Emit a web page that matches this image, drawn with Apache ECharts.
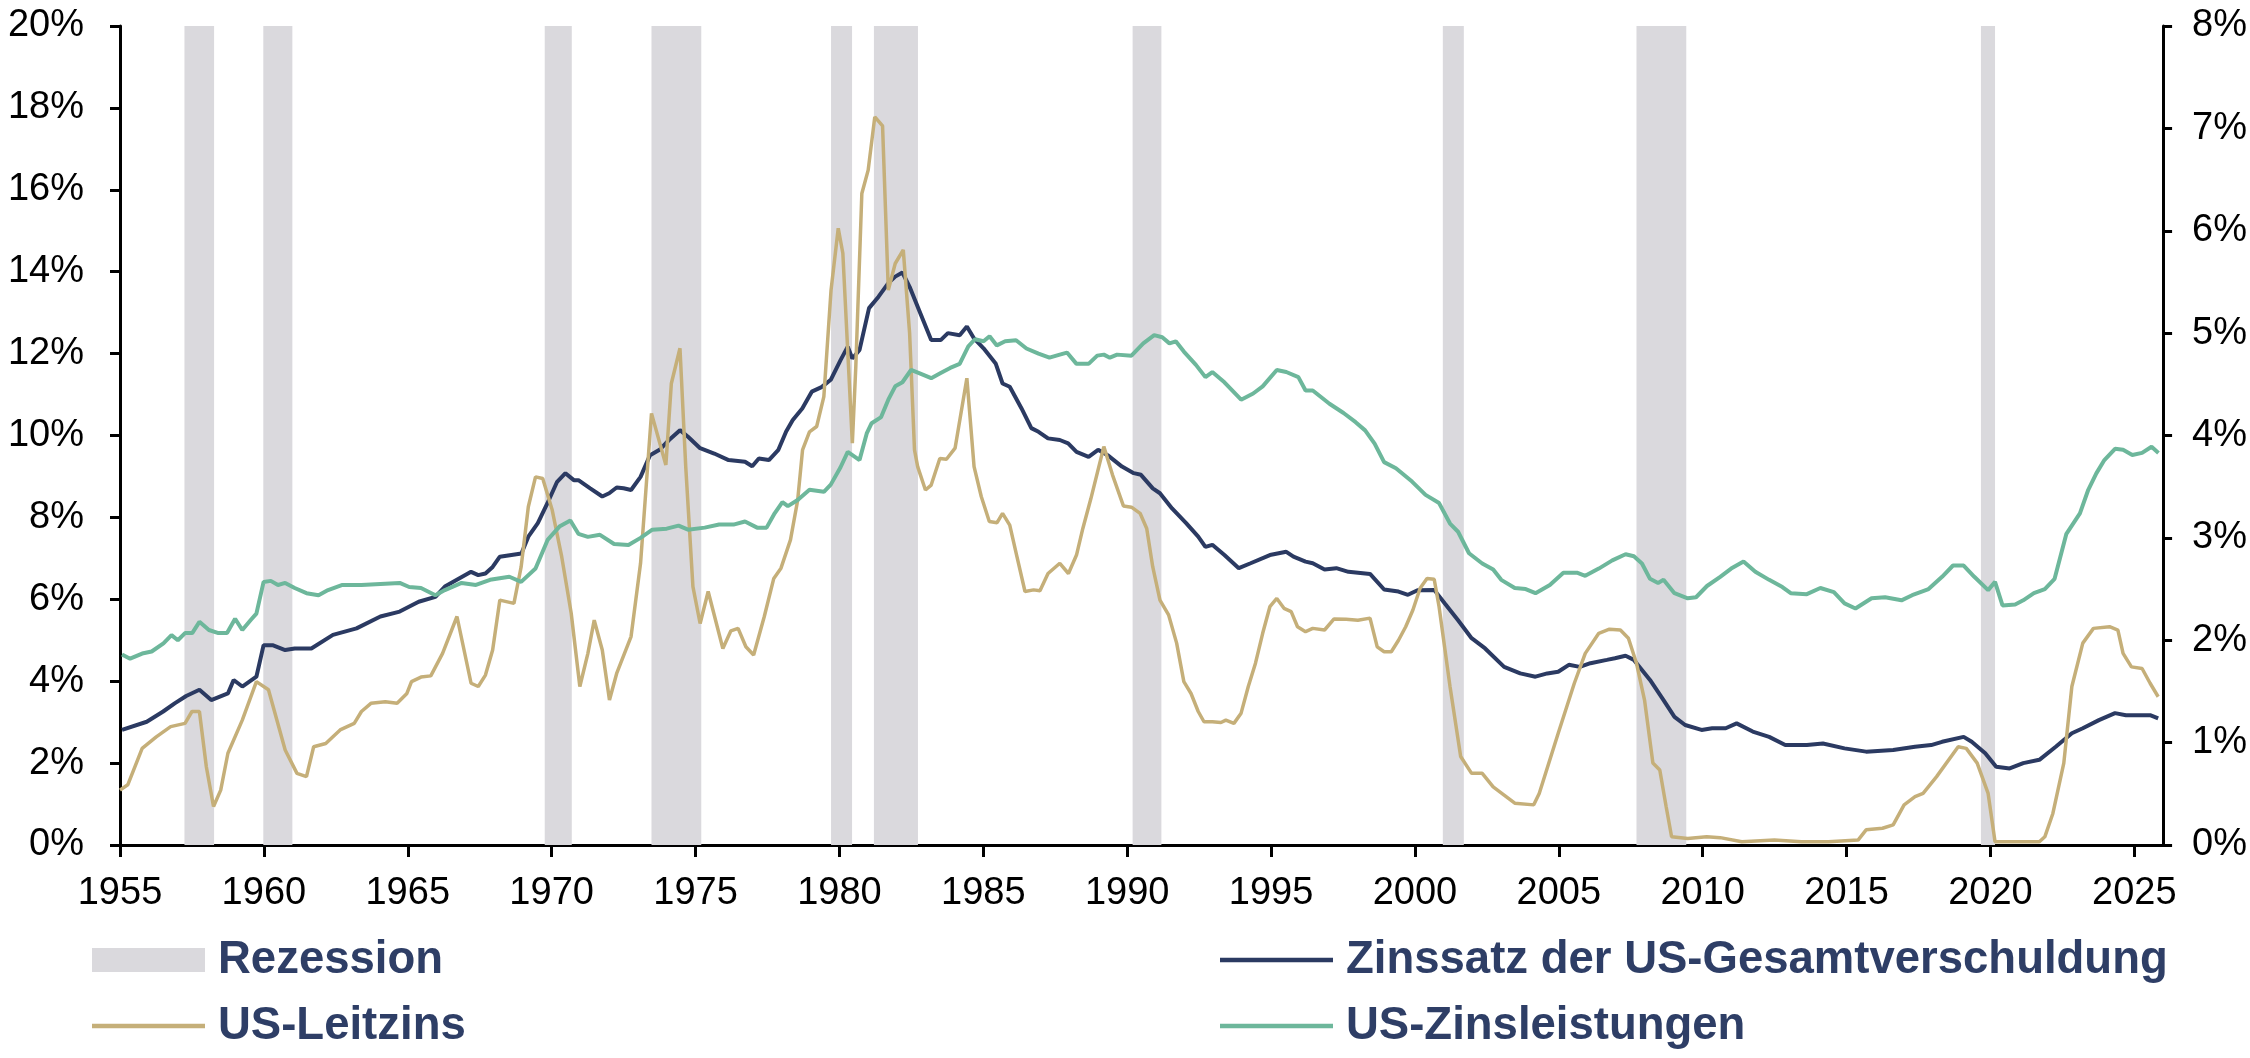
<!DOCTYPE html>
<html>
<head>
<meta charset="utf-8">
<script src="https://cdn.jsdelivr.net/npm/echarts@6/dist/echarts.min.js"></script>
<style>
html,body{margin:0;padding:0;background:#ffffff;}
#chart{width:2250px;height:1058px;}
</style>
</head>
<body>
<div id="chart"></div>
<script>
// ---------- DATA ----------
const xTickLabels = [1955,1960,1965,1970,1975,1980,1985,1990,1995,2000,2005,2010,2015,2020,2025];
const leftTicks = [0,2,4,6,8,10,12,14,16,18,20];
const rightTicks = [0,1,2,3,4,5,6,7,8];

const seriesNames = ['Rezession','Zinssatz der US-Gesamtverschuldung','US-Leitzins','US-Zinsleistungen'];

// Recession periods [start, end] in decimal years
const recessions = [
  [1957.24,1958.27],[1959.98,1960.99],[1969.76,1970.70],[1973.47,1975.20],
  [1979.71,1980.44],[1981.20,1982.73],[1990.19,1991.19],[2000.97,2001.70],
  [2007.70,2009.43],[2019.67,2020.16]
];

// Zinssatz der US-Gesamtverschuldung (left axis, %)
const debtRate = [
  [1955.07,2.81],[1955.93,3.01],[1956.5,3.26],[1956.9,3.46],[1957.3,3.64],[1957.76,3.79],
  [1958.17,3.54],[1958.75,3.70],[1958.95,4.03],[1959.25,3.87],[1959.74,4.11],[1959.99,4.88],
  [1960.3,4.88],[1960.74,4.76],[1961.07,4.80],[1961.65,4.80],[1962.4,5.13],[1963.22,5.29],
  [1964.05,5.58],[1964.72,5.70],[1965.38,5.94],[1965.96,6.06],[1966.29,6.31],[1967.2,6.67],
  [1967.45,6.59],[1967.7,6.63],[1967.95,6.79],[1968.2,7.04],[1968.95,7.12],[1969.19,7.53],
  [1969.52,7.86],[1969.85,8.34],[1970.19,8.87],[1970.48,9.08],[1970.77,8.91],[1970.93,8.91],
  [1971.34,8.71],[1971.76,8.51],[1972.0,8.59],[1972.26,8.73],[1972.5,8.71],[1972.76,8.67],
  [1973.09,8.99],[1973.42,9.52],[1973.75,9.65],[1974.08,9.89],[1974.46,10.13],[1974.74,9.97],
  [1975.16,9.69],[1975.65,9.56],[1976.15,9.40],[1976.72,9.36],[1976.97,9.25],[1977.2,9.44],
  [1977.55,9.40],[1977.88,9.65],[1978.15,10.1],[1978.38,10.38],[1978.71,10.66],[1979.04,11.07],
  [1979.38,11.18],[1979.7,11.36],[1980.04,11.84],[1980.29,12.17],[1980.45,11.88],[1980.7,12.09],
  [1981.03,13.11],[1981.36,13.39],[1981.7,13.72],[1981.94,13.88],[1982.19,13.98],[1982.44,13.63],
  [1982.77,13.06],[1983.19,12.33],[1983.52,12.33],[1983.77,12.50],[1984.18,12.45],[1984.43,12.66],
  [1984.68,12.37],[1985.01,12.13],[1985.43,11.76],[1985.67,11.27],[1985.92,11.19],[1986.33,10.66],
  [1986.67,10.18],[1986.92,10.09],[1987.25,9.93],[1987.66,9.89],[1987.95,9.81],[1988.24,9.60],
  [1988.66,9.48],[1988.99,9.65],[1989.32,9.52],[1989.82,9.24],[1990.23,9.08],[1990.48,9.04],
  [1990.89,8.71],[1991.14,8.59],[1991.56,8.22],[1992.05,7.86],[1992.47,7.53],[1992.72,7.28],
  [1992.96,7.33],[1993.38,7.08],[1993.88,6.76],[1994.29,6.88],[1994.96,7.08],[1995.53,7.16],
  [1995.78,7.04],[1996.2,6.92],[1996.45,6.88],[1996.86,6.73],[1997.27,6.76],[1997.69,6.67],
  [1998.44,6.62],[1998.93,6.24],[1999.43,6.19],[1999.76,6.11],[2000.09,6.22],[2000.67,6.23],
  [2001.04,5.90],[2001.5,5.49],[2001.97,5.05],[2002.44,4.80],[2003.1,4.35],[2003.66,4.19],
  [2004.19,4.11],[2004.6,4.19],[2004.98,4.23],[2005.35,4.40],[2005.73,4.35],[2006.1,4.44],
  [2006.67,4.52],[2006.95,4.56],[2007.32,4.62],[2007.61,4.52],[2008.17,4.03],[2008.64,3.54],
  [2009.02,3.13],[2009.39,2.93],[2009.96,2.81],[2010.33,2.85],[2010.8,2.85],[2011.18,2.97],
  [2011.74,2.77],[2012.31,2.64],[2012.87,2.44],[2013.62,2.44],[2014.18,2.48],[2014.93,2.36],
  [2015.68,2.28],[2016.62,2.32],[2017.38,2.40],[2017.94,2.44],[2018.32,2.52],[2019.07,2.64],
  [2019.35,2.52],[2019.82,2.24],[2020.2,1.91],[2020.67,1.87],[2021.14,2.0],[2021.7,2.08],
  [2022.27,2.40],[2022.83,2.73],[2023.21,2.85],[2023.77,3.05],[2024.33,3.22],[2024.71,3.17],
  [2025.08,3.17],[2025.55,3.17],[2025.83,3.09]
];

// US-Leitzins (left axis, %)
const policyRate = [
  [1955.0,1.34],[1955.27,1.47],[1955.77,2.36],[1956.26,2.64],[1956.76,2.89],[1957.26,2.97],
  [1957.5,3.26],[1957.76,3.26],[1958.0,1.91],[1958.25,0.94],[1958.5,1.34],[1958.75,2.24],
  [1959.25,3.05],[1959.74,3.99],[1960.16,3.79],[1960.74,2.32],[1961.15,1.75],[1961.48,1.67],
  [1961.73,2.40],[1962.15,2.48],[1962.65,2.81],[1963.14,2.97],[1963.39,3.26],[1963.72,3.46],
  [1964.22,3.50],[1964.63,3.46],[1964.97,3.70],[1965.13,3.99],[1965.46,4.10],[1965.8,4.13],
  [1966.21,4.68],[1966.71,5.58],[1967.2,3.95],[1967.45,3.87],[1967.7,4.15],[1967.95,4.76],
  [1968.2,5.98],[1968.69,5.90],[1968.94,6.79],[1969.19,8.26],[1969.44,8.99],[1969.69,8.95],
  [1970.02,8.18],[1970.35,7.04],[1970.68,5.66],[1970.98,3.87],[1971.26,4.68],[1971.48,5.49],
  [1971.76,4.76],[1972.01,3.54],[1972.26,4.19],[1972.76,5.09],[1973.09,6.88],[1973.47,10.54],
  [1973.97,9.28],[1974.16,11.27],[1974.46,12.13],[1974.66,9.24],[1974.91,6.31],[1975.16,5.41],
  [1975.44,6.19],[1975.95,4.80],[1976.23,5.23],[1976.48,5.29],[1976.75,4.84],[1977.02,4.64],
  [1977.39,5.58],[1977.72,6.51],[1977.97,6.76],[1978.3,7.45],[1978.55,8.42],[1978.72,9.65],
  [1978.96,10.09],[1979.21,10.22],[1979.46,10.95],[1979.71,13.55],[1979.96,15.06],[1980.12,14.45],
  [1980.45,9.81],[1980.57,11.68],[1980.78,15.91],[1981.0,16.48],[1981.23,17.78],[1981.5,17.56],
  [1981.7,13.55],[1981.94,14.20],[1982.22,14.53],[1982.44,12.50],[1982.61,9.65],[1982.72,9.24],
  [1982.99,8.67],[1983.19,8.79],[1983.49,9.44],[1983.72,9.42],[1984.02,9.69],[1984.43,11.40],
  [1984.68,9.24],[1984.93,8.51],[1985.21,7.90],[1985.48,7.87],[1985.67,8.10],[1985.92,7.81],
  [1986.17,7.04],[1986.45,6.19],[1986.75,6.23],[1986.97,6.21],[1987.25,6.63],[1987.66,6.88],
  [1987.96,6.63],[1988.24,7.08],[1988.46,7.73],[1988.74,8.46],[1989.19,9.73],[1989.49,9.04],
  [1989.87,8.28],[1990.15,8.25],[1990.45,8.10],[1990.68,7.73],[1990.89,6.79],[1991.14,5.98],
  [1991.44,5.62],[1991.72,4.93],[1991.97,3.99],[1992.22,3.70],[1992.47,3.26],[1992.67,3.01],
  [1992.96,3.01],[1993.26,2.99],[1993.43,3.05],[1993.71,2.97],[1993.96,3.22],[1994.21,3.87],
  [1994.46,4.44],[1994.71,5.17],[1994.96,5.82],[1995.2,6.02],[1995.45,5.78],[1995.7,5.70],
  [1995.92,5.33],[1996.2,5.21],[1996.45,5.29],[1996.86,5.25],[1997.19,5.52],[1997.61,5.51],
  [1998.02,5.49],[1998.44,5.54],[1998.69,4.84],[1998.93,4.72],[1999.18,4.72],[1999.43,5.00],
  [1999.68,5.33],[1999.93,5.74],[2000.18,6.27],[2000.42,6.51],[2000.67,6.49],[2000.84,5.82],
  [2001.22,3.87],[2001.59,2.16],[2001.97,1.75],[2002.34,1.75],[2002.72,1.42],[2003.1,1.22],
  [2003.47,1.02],[2004.13,0.98],[2004.32,1.26],[2004.98,2.73],[2005.54,3.95],[2005.92,4.68],
  [2006.39,5.17],[2006.76,5.27],[2007.14,5.25],[2007.42,5.05],[2007.7,4.44],[2007.98,3.54],
  [2008.27,2.0],[2008.51,1.83],[2008.73,0.94],[2008.92,0.20],[2009.48,0.16],[2010.14,0.20],
  [2010.61,0.18],[2011.36,0.08],[2012.49,0.12],[2013.43,0.08],[2014.37,0.08],[2015.4,0.12],
  [2015.68,0.37],[2016.25,0.41],[2016.62,0.49],[2017.0,0.98],[2017.38,1.18],[2017.66,1.26],
  [2018.13,1.67],[2018.88,2.40],[2019.16,2.36],[2019.54,2.0],[2019.92,1.26],[2020.16,0.08],
  [2021.7,0.08],[2021.89,0.20],[2022.17,0.77],[2022.55,2.0],[2022.83,3.87],[2023.21,4.93],
  [2023.58,5.29],[2024.14,5.33],[2024.43,5.25],[2024.61,4.68],[2024.9,4.35],[2025.27,4.31],
  [2025.55,3.95],[2025.83,3.62]
];

// US-Zinsleistungen (right axis, %)
const interestPayments = [
  [1955.07,1.86],[1955.35,1.82],[1955.77,1.87],[1956.1,1.89],[1956.51,1.97],[1956.79,2.05],
  [1957.01,2.0],[1957.26,2.07],[1957.51,2.07],[1957.76,2.18],[1958.09,2.10],[1958.42,2.07],
  [1958.72,2.07],[1959.0,2.21],[1959.25,2.10],[1959.55,2.20],[1959.74,2.26],[1959.99,2.57],
  [1960.24,2.58],[1960.49,2.54],[1960.74,2.56],[1961.07,2.51],[1961.48,2.46],[1961.9,2.44],
  [1962.23,2.49],[1962.73,2.54],[1963.39,2.54],[1964.05,2.55],[1964.72,2.56],[1965.05,2.52],
  [1965.46,2.51],[1965.96,2.44],[1966.29,2.49],[1966.87,2.56],[1967.37,2.54],[1967.86,2.59],
  [1968.53,2.62],[1968.94,2.57],[1969.44,2.70],[1969.86,2.98],[1970.27,3.11],[1970.65,3.17],
  [1970.93,3.04],[1971.26,3.01],[1971.68,3.03],[1972.17,2.94],[1972.67,2.93],[1973.09,3.0],
  [1973.5,3.08],[1974.0,3.09],[1974.41,3.12],[1974.74,3.08],[1975.32,3.10],[1975.82,3.13],
  [1976.32,3.13],[1976.72,3.16],[1977.14,3.10],[1977.47,3.10],[1977.75,3.24],[1978.02,3.35],
  [1978.21,3.31],[1978.55,3.37],[1978.96,3.47],[1979.46,3.45],[1979.7,3.52],[1980.04,3.69],
  [1980.29,3.84],[1980.7,3.76],[1980.95,4.02],[1981.12,4.12],[1981.45,4.18],[1981.7,4.35],
  [1981.94,4.48],[1982.19,4.52],[1982.49,4.64],[1982.77,4.61],[1983.19,4.56],[1983.52,4.61],
  [1983.85,4.66],[1984.18,4.70],[1984.48,4.87],[1984.71,4.94],[1985.01,4.92],[1985.22,4.97],
  [1985.47,4.88],[1985.76,4.92],[1986.14,4.93],[1986.5,4.85],[1986.92,4.80],[1987.3,4.76],
  [1987.66,4.79],[1987.91,4.81],[1988.24,4.70],[1988.66,4.70],[1988.96,4.78],[1989.19,4.79],
  [1989.4,4.76],[1989.65,4.79],[1990.15,4.78],[1990.56,4.90],[1990.94,4.98],[1991.22,4.96],
  [1991.47,4.90],[1991.69,4.92],[1991.97,4.82],[1992.39,4.69],[1992.72,4.57],[1992.96,4.62],
  [1993.38,4.52],[1993.96,4.35],[1994.38,4.41],[1994.71,4.48],[1995.2,4.64],[1995.53,4.62],
  [1995.95,4.57],[1996.2,4.44],[1996.45,4.44],[1997.03,4.31],[1997.52,4.22],[1997.94,4.13],
  [1998.27,4.05],[1998.6,3.92],[1998.93,3.74],[1999.34,3.68],[1999.9,3.55],[2000.37,3.42],
  [2000.84,3.34],[2001.22,3.14],[2001.5,3.06],[2001.88,2.85],[2002.34,2.75],[2002.72,2.69],
  [2003.0,2.59],[2003.47,2.51],[2003.85,2.50],[2004.19,2.46],[2004.69,2.54],[2005.16,2.66],
  [2005.63,2.66],[2005.92,2.63],[2006.39,2.70],[2006.86,2.78],[2007.32,2.84],[2007.61,2.82],
  [2007.89,2.75],[2008.17,2.60],[2008.45,2.56],[2008.64,2.59],[2009.02,2.46],[2009.48,2.41],
  [2009.77,2.42],[2010.15,2.53],[2010.61,2.62],[2010.99,2.70],[2011.42,2.77],[2011.83,2.67],
  [2012.31,2.59],[2012.77,2.52],[2013.06,2.46],[2013.62,2.45],[2014.09,2.51],[2014.56,2.47],
  [2014.93,2.36],[2015.31,2.31],[2015.87,2.41],[2016.34,2.42],[2016.91,2.39],[2017.28,2.44],
  [2017.85,2.50],[2018.32,2.62],[2018.7,2.73],[2019.07,2.73],[2019.44,2.62],[2019.92,2.49],
  [2020.16,2.57],[2020.42,2.34],[2020.86,2.35],[2021.14,2.39],[2021.51,2.46],[2021.89,2.50],
  [2022.23,2.60],[2022.64,3.04],[2023.11,3.24],[2023.4,3.47],[2023.68,3.63],[2023.96,3.76],
  [2024.33,3.87],[2024.61,3.86],[2024.93,3.81],[2025.27,3.83],[2025.6,3.89],[2025.84,3.83]
];

// ---------- STYLE ----------
const FONT = "'Liberation Sans', Arial, Helvetica, sans-serif";
const C_BAND = '#DAD9DD';
const C_NAVY = '#2B3A62';
const C_GOLD = '#C5AF79';
const C_GREEN = '#6DB79B';
const C_LEGEND = '#2E3E66';
const lineIcon = 'path://M0,0h113v4.5h-113z';

const chart = echarts.init(document.getElementById('chart'), null, {renderer: 'canvas'});

const axisLineStyle = {show: true, lineStyle: {color: '#000', width: 3}};
const legendText = {fontFamily: FONT, fontWeight: 'bold', fontSize: 45.5, color: C_LEGEND, lineHeight: 45, padding: [0, 0, 0, 8]};

const option = {
  animation: false,
  backgroundColor: '#ffffff',
  grid: {left: 120, right: 83, top: 26, bottom: 213, containLabel: false},
  legend: [
    {
      left: 92, top: 937, orient: 'vertical', padding: 0, itemGap: 20,
      itemWidth: 113, itemHeight: 24, selectedMode: false,
      textStyle: legendText,
      data: [
        {name: seriesNames[0], icon: 'rect'},
        {name: seriesNames[2], icon: lineIcon}
      ]
    },
    {
      left: 1220, top: 937, orient: 'vertical', padding: 0, itemGap: 20,
      itemWidth: 113, itemHeight: 24, selectedMode: false,
      textStyle: legendText,
      data: [
        {name: seriesNames[1], icon: lineIcon},
        {name: seriesNames[3], icon: lineIcon}
      ]
    }
  ],
  xAxis: {
    type: 'value', min: 1955, max: 2026,
    axisLine: Object.assign({onZero: false}, axisLineStyle),
    axisTick: {show: true, length: 12, lineStyle: {color: '#000', width: 3}, customValues: xTickLabels},
    axisLabel: {
      customValues: xTickLabels, margin: 30,
      fontFamily: FONT, fontSize: 38, color: '#000',
      formatter: v => String(v)
    },
    splitLine: {show: false}
  },
  yAxis: [
    {
      type: 'value', min: 0, max: 20, interval: 2, position: 'left',
      axisLine: Object.assign({onZero: false}, axisLineStyle),
      axisTick: {show: true, length: 10, lineStyle: {color: '#000', width: 3}},
      axisLabel: {margin: 36, fontFamily: FONT, fontSize: 38, color: '#000', formatter: v => v + '%'},
      splitLine: {show: false}
    },
    {
      type: 'value', min: 0, max: 8, interval: 1, position: 'right',
      axisLine: Object.assign({onZero: false}, axisLineStyle),
      axisTick: {show: true, length: 9, lineStyle: {color: '#000', width: 3}},
      axisLabel: {margin: 29, fontFamily: FONT, fontSize: 38, color: '#000', formatter: v => v + '%'},
      splitLine: {show: false}
    }
  ],
  series: [
    {
      name: seriesNames[0], type: 'line', data: [], z: 1,
      color: C_BAND, itemStyle: {color: C_BAND},
      markArea: {
        silent: true,
        itemStyle: {color: C_BAND, opacity: 1},
        data: recessions.map(r => [{xAxis: r[0]}, {xAxis: r[1]}])
      }
    },
    {
      name: seriesNames[1], type: 'line', yAxisIndex: 0, data: debtRate,
      showSymbol: false, symbol: 'none', color: C_NAVY, itemStyle: {color: C_NAVY},
      lineStyle: {color: C_NAVY, width: 4}, z: 3
    },
    {
      name: seriesNames[2], type: 'line', yAxisIndex: 0, data: policyRate,
      showSymbol: false, symbol: 'none', color: C_GOLD, itemStyle: {color: C_GOLD},
      lineStyle: {color: C_GOLD, width: 3.5}, z: 4
    },
    {
      name: seriesNames[3], type: 'line', yAxisIndex: 1, data: interestPayments,
      showSymbol: false, symbol: 'none', color: C_GREEN, itemStyle: {color: C_GREEN},
      lineStyle: {color: C_GREEN, width: 4}, z: 5
    }
  ]
};

chart.setOption(option);
</script>
</body>
</html>
